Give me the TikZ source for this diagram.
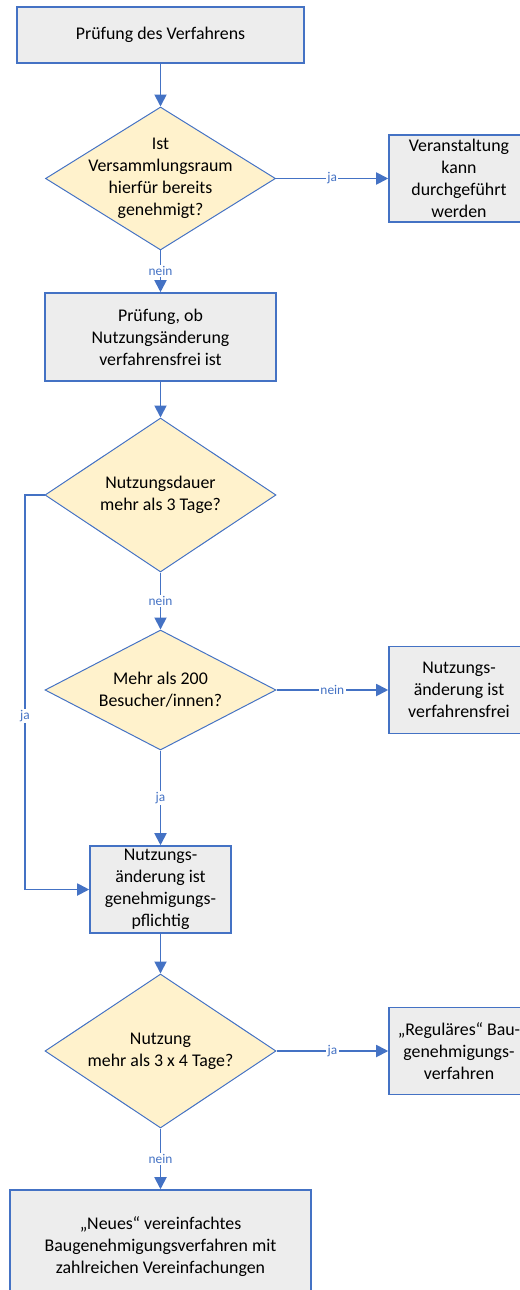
\documentclass[tikz,border=0pt]{standalone}
\usepackage{fontspec}
\setmainfont{Carlito}
\usetikzlibrary{shapes.geometric,arrows.meta}
\definecolor{flowblue}{HTML}{4472C4}
\definecolor{boxgray}{HTML}{EDEDED}
\definecolor{askyellow}{HTML}{FFF2CC}

\begin{document}
\begin{tikzpicture}[
    box/.style={draw=flowblue, line width=1.1pt, fill=boxgray, align=center, inner sep=0pt},
    ask/.style={diamond, draw=flowblue, line width=0.7pt, fill=askyellow, inner sep=0pt},
    flow/.style={draw=flowblue, line width=1.3pt, -{Triangle[length=0.3cm,width=0.3cm]}},
    lbl/.style={fill=white, text=flowblue, inner sep=1pt, font=\fontsize{9.5}{11}\selectfont},
    font=\fontsize{12.7}{15.6}\selectfont]
\useasboundingbox (0,0) rectangle (13,-32.25);
\coordinate (loop) at (0.625,0);

% Start
\node[box, minimum width=7.175cm, minimum height=1.4cm] (start) at (4.0125,-0.875)
{Prüfung des Verfahrens};

% Versammlungsraum genehmigt?
\node[ask, minimum width=5.75cm, minimum height=3.575cm] (q1) at (4.0125,-4.4625) {};
\node[align=center] (q1t) at (q1) {Ist\\Versammlungsraum\\hierfür bereits\\genehmigt?};
\node[box, minimum width=3.5cm, minimum height=2.175cm] (done) at (11.475,-4.4625)
{Veranstaltung\\kann\\durchgeführt\\werden};

% Verfahrensfrei?
\node[box, minimum width=5.775cm, minimum height=2.2cm] (check) at (4.0125,-8.425)
{Prüfung, ob\\Nutzungsänderung\\verfahrensfrei ist};

% Nutzungsdauer
\node[ask, minimum width=5.775cm, minimum height=3.85cm] (q2) at (4.0125,-12.375) {};
\node[align=center] (q2t) at (q2) {Nutzungsdauer\\mehr als 3 Tage?};

% Besucher
\node[ask, minimum width=5.775cm, minimum height=3.0cm] (q3) at (4.0125,-17.25) {};
\node[align=center] (q3t) at (q3) {Mehr als 200\\Besucher/innen?};
\node[box, minimum width=3.5cm, minimum height=2.175cm] (free) at (11.475,-17.25)
{Nutzungs-\\änderung ist\\verfahrensfrei};

% Genehmigungspflichtig
\node[box, minimum width=3.525cm, minimum height=2.175cm] (need) at (4.0125,-22.2375)
{Nutzungs-\\änderung ist\\genehmigungs-\\pflichtig};

% 3 x 4 Tage
\node[ask, minimum width=5.775cm, minimum height=3.85cm] (q4) at (4.0125,-26.275) {};
\node[align=center] (q4t) at (q4) {Nutzung\\mehr als 3 x 4 Tage?};
\node[box, minimum width=3.5cm, minimum height=2.175cm] (regular) at (11.475,-26.275)
{„Reguläres“ Bau-\\genehmigungs-\\verfahren};

% Neues Verfahren
\node[box, minimum width=7.525cm, minimum height=2.85cm] (simple) at (4.0125,-31.175)
{„Neues“ vereinfachtes\\Baugenehmigungsverfahren mit\\zahlreichen Vereinfachungen};

% Verbindungen
\draw[flow] (start) -- (q1);
\draw[flow] (q1) -- node[lbl] {ja} (done);
\draw[flow] (q1) -- node[lbl] {nein} (check);
\draw[flow] (check) -- (q2);
\draw[flow] (q2) -- node[lbl] {nein} (q3);
\draw[flow] (q2.west) -- (q2.west -| loop) -- node[lbl, pos=0.56] {ja} (need.west -| loop) -- (need.west);
\draw[flow] (q3) -- node[lbl] {nein} (free);
\draw[flow] (q3) -- node[lbl] {ja} (need);
\draw[flow] (need) -- (q4);
\draw[flow] (q4) -- node[lbl] {ja} (regular);
\draw[flow] (q4) -- node[lbl] {nein} (simple);

\end{tikzpicture}
\end{document}
